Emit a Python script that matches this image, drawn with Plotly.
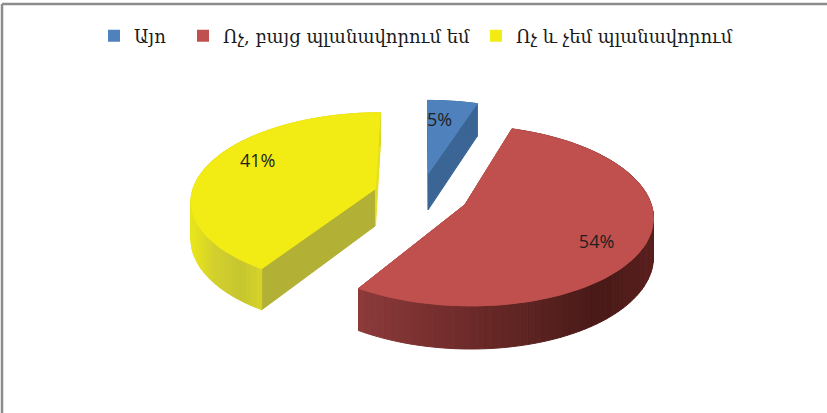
import numpy as np
import plotly.graph_objects as go

categories = ["Այո", "Ոչ, բայց պլանավորում եմ", "Ոչ և չեմ պլանավորում"]
values = [5, 54, 41]

W, H = 827, 413
TOP = ["#4F81BD", "#C0504D", "#F2EB14"]
# wall colours for the start edge and the end edge of each slice
EDGE_START = ["#3A6595", "#8E3B3B", "#B2B136"]
EDGE_END = ["#3A6595", "#8E3B3B", "#E4DF1E"]
RIM = [
    ([426, 480], ["#3A6595", "#3A6595"]),
    ([356, 480, 600, 652], ["#8E3B3B", "#6A2A28", "#491A18", "#5A201E"]),
    ([193, 215, 240, 262], ["#E8E41C", "#D2D02E", "#C6C630", "#D8D428"]),
]
LABEL_NUDGE = [(-7, 2), (2, 10), (6, -9)]
LEGEND_X = [94, 183, 476]

CX, CY, A, B, K, DEPTH, EXPLODE = 421, 195, 184, 86.6, 0.12, 37.3, 0.26


def project(u, v, z=0.0):
    d = 1 + K * v
    return CX + A * u / d, CY - B * v / d + DEPTH * z / d


def rgb(c):
    return [int(c[i:i + 2], 16) for i in (1, 3, 5)]


def shade(x, stops):
    xs, cs = stops
    arr = np.array([rgb(c) for c in cs], float)
    return "rgb(%d,%d,%d)" % tuple(np.interp(x, xs, arr[:, i]) for i in range(3))


def poly(fig, xs, ys, color):
    fig.add_trace(go.Scatter(
        x=list(xs) + [xs[0]], y=list(ys) + [ys[0]], mode="lines", fill="toself",
        fillcolor=color, line=dict(color=color, width=1),
        hoverinfo="skip", showlegend=False))


fractions = np.array(values, float) / sum(values)
ends = np.cumsum(fractions) * 2 * np.pi
starts = ends - fractions * 2 * np.pi

fig = go.Figure()
label_x, label_y, label_t = [], [], []

for i in [0, 2, 1]:
    t0, t1 = starts[i], ends[i]
    mid = (t0 + t1) / 2
    ou, ov = EXPLODE * np.sin(mid), EXPLODE * np.cos(mid)
    ts = np.linspace(t0, t1, max(int((t1 - t0) / np.radians(2)), 2) + 1)
    us, vs = ou + np.sin(ts), ov + np.cos(ts)

    # cut faces
    for t, col in ((t0, EDGE_START[i]), (t1, EDGE_END[i])):
        eu, ev = ou + np.sin(t), ov + np.cos(t)
        a = project(ou, ov)
        b = project(eu, ev)
        c = project(eu, ev, 1)
        d = project(ou, ov, 1)
        poly(fig, [a[0], b[0], c[0], d[0]], [a[1], b[1], c[1], d[1]], col)

    # rim wall
    for j in range(len(ts) - 1):
        p0 = project(us[j], vs[j])
        p1 = project(us[j + 1], vs[j + 1])
        p2 = project(us[j + 1], vs[j + 1], 1)
        p3 = project(us[j], vs[j], 1)
        poly(fig, [p0[0], p1[0], p2[0], p3[0]], [p0[1], p1[1], p2[1], p3[1]],
             shade((p0[0] + p1[0]) / 2, RIM[i]))

    # top face
    ax, ay = project(ou, ov)
    rx, ry = project(us, vs)
    poly(fig, [ax] + list(rx), [ay] + list(ry), TOP[i])

    lx, ly = project(ou + 0.73 * np.sin(mid), ov + 0.73 * np.cos(mid))
    label_x.append(lx + LABEL_NUDGE[i][0])
    label_y.append(ly + LABEL_NUDGE[i][1])
    label_t.append(f"{values[i]}%")

fig.add_trace(go.Scatter(
    x=label_x, y=label_y, text=label_t, mode="text", hoverinfo="skip", showlegend=False,
    textposition="middle center",
    textfont=dict(family="Open Sans, Liberation Sans", size=18, color="#1F1F1F")))

layout_legends = {}
for i, name in enumerate(categories):
    key = "legend" if i == 0 else f"legend{i + 1}"
    fig.add_trace(go.Scatter(
        x=[None], y=[None], mode="markers", name=name, legend=key,
        marker=dict(symbol="square", size=12, color=TOP[i])))
    layout_legends[key] = dict(
        x=LEGEND_X[i] / W, y=1 - 36 / H, xanchor="left", yanchor="middle",
        bgcolor="rgba(0,0,0,0)", itemwidth=30,
        font=dict(family="DejaVu Serif", size=18, color="#1A1A1A"))

fig.update_layout(
    width=W, height=H, margin=dict(l=0, r=0, t=0, b=0),
    paper_bgcolor="white", plot_bgcolor="white",
    xaxis=dict(range=[0, W], visible=False, fixedrange=True),
    yaxis=dict(range=[H, 0], visible=False, fixedrange=True),
    shapes=[
        dict(type="line", xref="paper", yref="paper", x0=2 / W, x1=1, y0=1 - 4 / H, y1=1 - 4 / H,
             line=dict(color="#8C8C8C", width=2.5)),
        dict(type="line", xref="paper", yref="paper", x0=2 / W, x1=2 / W, y0=0, y1=1 - 4 / H,
             line=dict(color="#8C8C8C", width=2.5)),
    ],
    **layout_legends,
)

fig.write_html("out.html", config={"displayModeBar": False},
               post_script="document.body.style.margin='0';")
